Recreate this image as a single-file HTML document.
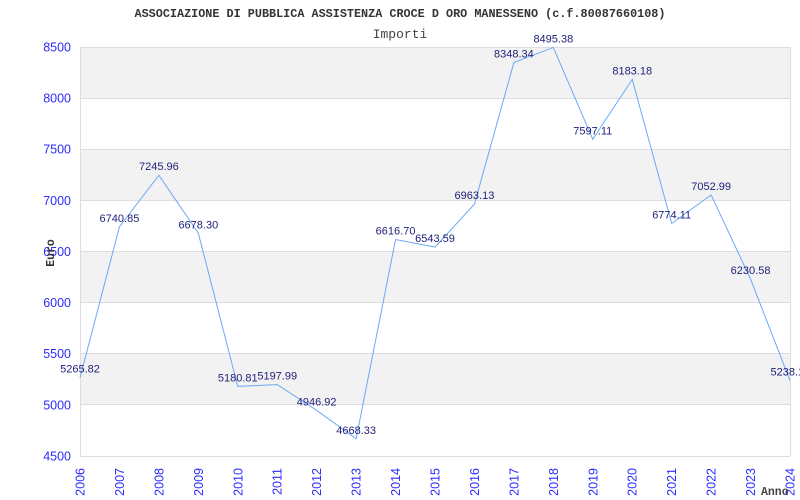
<!DOCTYPE html>
<html><head><meta charset="utf-8"><style>
html,body{margin:0;padding:0;background:#fff;width:800px;height:500px;overflow:hidden}
svg{display:block}
</style></head><body>
<svg width="800" height="500" viewBox="0 0 800 500" xmlns="http://www.w3.org/2000/svg">
<rect x="0" y="0" width="800" height="500" fill="#fff"/>
<!-- bands -->
<g fill="#f2f2f2">
<rect x="80" y="47" width="710" height="51.125"/>
<rect x="80" y="149.25" width="710" height="51.125"/>
<rect x="80" y="251.5" width="710" height="51.125"/>
<rect x="80" y="353.75" width="710" height="51.125"/>
</g>
<g stroke="#dddddd" stroke-width="1" shape-rendering="crispEdges">
<line x1="80" y1="47.5" x2="790" y2="47.5"/>
<line x1="80" y1="98.5" x2="790" y2="98.5"/>
<line x1="80" y1="149.5" x2="790" y2="149.5"/>
<line x1="80" y1="200.5" x2="790" y2="200.5"/>
<line x1="80" y1="251.5" x2="790" y2="251.5"/>
<line x1="80" y1="302.5" x2="790" y2="302.5"/>
<line x1="80" y1="353.5" x2="790" y2="353.5"/>
<line x1="80" y1="404.5" x2="790" y2="404.5"/>
<line x1="80" y1="456.5" x2="790" y2="456.5"/>
<line x1="80.5" y1="47" x2="80.5" y2="456"/>
<line x1="790.5" y1="47" x2="790.5" y2="456"/>
</g>
<!-- title -->
<text x="400" y="17" text-anchor="middle" font-family="Liberation Mono, monospace" font-weight="bold" font-size="11.8" fill="#333">ASSOCIAZIONE DI PUBBLICA ASSISTENZA CROCE D ORO MANESSENO (c.f.80087660108)</text>
<text x="400" y="38" text-anchor="middle" font-family="Liberation Mono, monospace" font-size="13" fill="#444">Importi</text>
<!-- y labels -->
<g font-family="Liberation Sans, sans-serif" font-size="12.5" fill="#2b2bff" text-anchor="end">
<text x="71" y="51.5">8500</text>
<text x="71" y="102.6">8000</text>
<text x="71" y="153.7">7500</text>
<text x="71" y="204.9">7000</text>
<text x="71" y="256">6500</text>
<text x="71" y="307.1">6000</text>
<text x="71" y="358.2">5500</text>
<text x="71" y="409.4">5000</text>
<text x="71" y="460.5">4500</text>
</g>
<!-- x labels -->
<g font-family="Liberation Sans, sans-serif" font-size="12.5" fill="#2b2bff" text-anchor="end">
<text transform="translate(84.5,468) rotate(-90)">2006</text>
<text transform="translate(123.9,468) rotate(-90)">2007</text>
<text transform="translate(163.4,468) rotate(-90)">2008</text>
<text transform="translate(202.8,468) rotate(-90)">2009</text>
<text transform="translate(242.3,468) rotate(-90)">2010</text>
<text transform="translate(281.7,468) rotate(-90)">2011</text>
<text transform="translate(321.2,468) rotate(-90)">2012</text>
<text transform="translate(360.6,468) rotate(-90)">2013</text>
<text transform="translate(400.1,468) rotate(-90)">2014</text>
<text transform="translate(439.5,468) rotate(-90)">2015</text>
<text transform="translate(478.9,468) rotate(-90)">2016</text>
<text transform="translate(518.4,468) rotate(-90)">2017</text>
<text transform="translate(557.8,468) rotate(-90)">2018</text>
<text transform="translate(597.3,468) rotate(-90)">2019</text>
<text transform="translate(636.7,468) rotate(-90)">2020</text>
<text transform="translate(676.2,468) rotate(-90)">2021</text>
<text transform="translate(715.6,468) rotate(-90)">2022</text>
<text transform="translate(755.1,468) rotate(-90)">2023</text>
<text transform="translate(794.5,468) rotate(-90)">2024</text>
</g>
<!-- axis titles -->
<text transform="translate(54,253) rotate(-90)" text-anchor="middle" font-family="Liberation Mono, monospace" font-weight="bold" font-size="11.5" fill="#333">Euro</text>
<text x="761" y="495" font-family="Liberation Mono, monospace" font-weight="bold" font-size="11.5" fill="#444">Anno</text>
<!-- series -->
<polyline fill="none" stroke="#6aa9f5" stroke-width="1" points="80,377.69 119.44,226.87 158.89,175.22 198.33,233.27 237.78,386.39 277.22,384.63 316.67,410.3 356.11,438.79 395.56,239.57 435,247.04 474.44,204.14 513.89,62.51 553.33,47.47 592.78,139.32 632.22,79.39 671.67,223.47 711.11,194.96 750.56,279.05 790,380.53"/>
<g font-family="Liberation Sans, sans-serif" font-size="11" fill="#1e1e7a" text-anchor="middle">
<text x="80" y="372.7">5265.82</text>
<text x="119.44" y="221.9">6740.85</text>
<text x="158.89" y="170.2">7245.96</text>
<text x="198.33" y="228.3">6678.30</text>
<text x="237.78" y="381.4">5180.81</text>
<text x="277.22" y="379.6">5197.99</text>
<text x="316.67" y="405.3">4946.92</text>
<text x="356.11" y="433.8">4668.33</text>
<text x="395.56" y="234.6">6616.70</text>
<text x="435" y="242">6543.59</text>
<text x="474.44" y="199.1">6963.13</text>
<text x="513.89" y="57.5">8348.34</text>
<text x="553.33" y="42.5">8495.38</text>
<text x="592.78" y="134.3">7597.11</text>
<text x="632.22" y="74.4">8183.18</text>
<text x="671.67" y="218.5">6774.11</text>
<text x="711.11" y="190">7052.99</text>
<text x="750.56" y="274">6230.58</text>
<text x="790" y="375.5">5238.11</text>
</g>
</svg>
</body></html>
